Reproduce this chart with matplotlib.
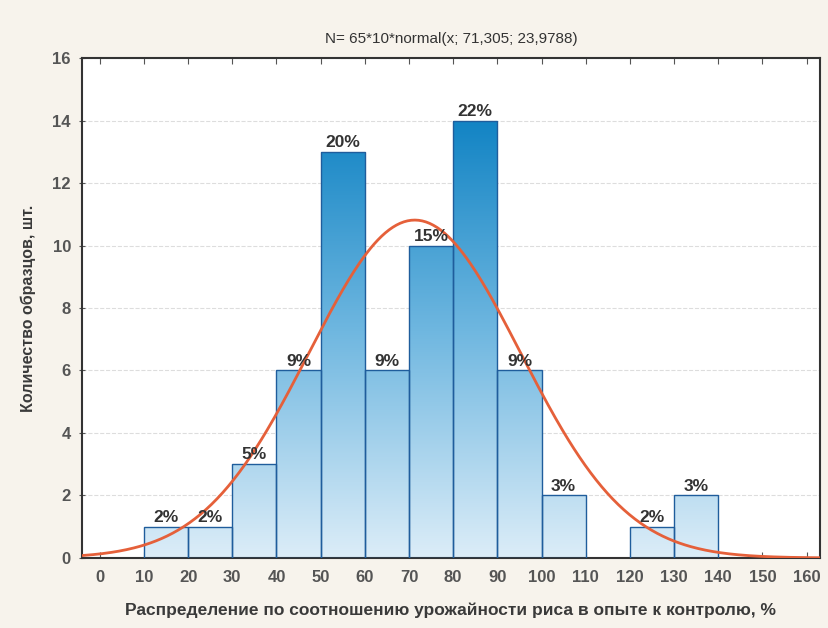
import numpy as np
import matplotlib
matplotlib.use("Agg")
import matplotlib.pyplot as plt
from matplotlib.colors import LinearSegmentedColormap
from matplotlib.patches import Rectangle

plt.rcParams['font.family'] = ['Liberation Sans Narrow', 'Liberation Sans', 'DejaVu Sans']

# данные гистограммы
bin_left = [10, 20, 30, 40, 50, 60, 70, 80, 90, 100, 110, 120, 130]
counts = [1, 1, 3, 6, 13, 6, 10, 14, 6, 2, 0, 1, 2]
n_total = 65
bin_width = 10
mu = 71.305
sigma = 23.9788
x_ticks = list(range(0, 161, 10))
y_ticks = list(range(0, 17, 2))

fig = plt.figure(figsize=(8.29, 6.28), dpi=100, facecolor='#f7f3ec')
ax = fig.add_axes([0.099, 0.1115, 0.890, 0.7961])
ax.set_facecolor('white')

ax.set_xlim(-4, 163)
ax.set_ylim(0, 16)

# градиент для столбцов
cmap = LinearSegmentedColormap.from_list('bars', ['#dcedf8', '#6fb7e0', '#0b80c2'])
grad = np.linspace(0, 1, 256).reshape(-1, 1)

for left, c in zip(bin_left, counts):
    if c == 0:
        continue
    rect = Rectangle((left, 0), bin_width, c, facecolor='none',
                     edgecolor='#1f5d9c', lw=1.0, zorder=3)
    ax.add_patch(rect)
    im = ax.imshow(grad, extent=(-4, 163, 0, 14.5), origin='lower',
                   cmap=cmap, aspect='auto', zorder=2, interpolation='bilinear')
    im.set_clip_path(rect)
    pct = round(c / n_total * 100)
    ax.text(left + bin_width / 2, c + 0.06, f'{pct}%', ha='center', va='bottom',
            fontsize=12.5, fontweight='bold', color='#333333', zorder=5)

# кривая нормального распределения
xs = np.linspace(-4, 163, 400)
ys = n_total * bin_width * np.exp(-0.5 * ((xs - mu) / sigma) ** 2) / (sigma * np.sqrt(2 * np.pi))
ax.plot(xs, ys, color='#e5603a', lw=2, zorder=4)

ax.set_xticks(x_ticks)
ax.set_yticks(y_ticks)
ax.tick_params(axis='both', labelsize=12, colors='#555555', length=4, direction='inout')
ax.tick_params(axis='x', top=True, direction='in', pad=9)
ax.tick_params(axis='y', pad=6)
for lab in ax.get_xticklabels() + ax.get_yticklabels():
    lab.set_fontweight('bold')
ax.grid(axis='y', color='#dddddd', ls='--', lw=0.8, zorder=0)
ax.set_axisbelow(True)

for s in ax.spines.values():
    s.set_color('#333333')
    s.set_linewidth(1.5)

ax.set_title('N= 65*10*normal(x; 71,305; 23,9788)', fontsize=11, color='#333333', pad=11)
ax.set_xlabel('Распределение по соотношению урожайности риса в опыте к контролю, %',
              fontsize=12.5, fontweight='bold', color='#3a3a3a', labelpad=12)
ax.set_ylabel('Количество образцов, шт.', fontsize=11.5, fontweight='bold',
              color='#3a3a3a', labelpad=12)

plt.savefig('out.png', dpi=100, facecolor=fig.get_facecolor())
